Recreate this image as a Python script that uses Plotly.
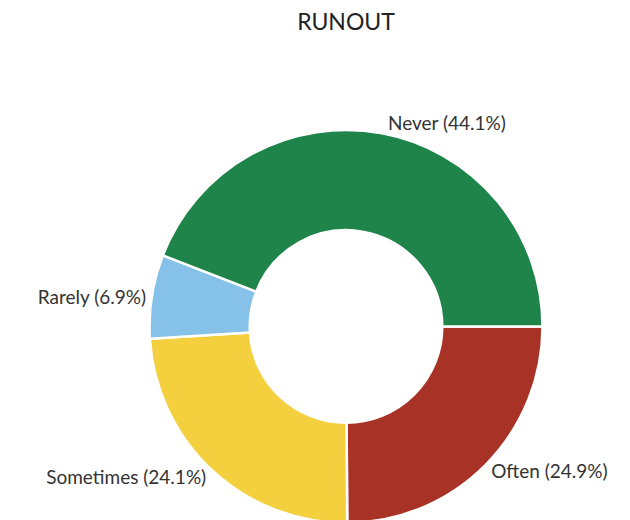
import plotly.graph_objects as go

categories = ["Often", "Sometimes", "Rarely", "Never"]
values = [24.9, 24.1, 6.9, 44.1]
colors = ["#a93226", "#f4d03f", "#85c1e9", "#1e8449"]

fig = go.Figure(go.Pie(
    labels=categories,
    values=values,
    hole=0.49,
    sort=False,
    direction="clockwise",
    rotation=90,
    marker=dict(colors=colors, line=dict(color="white", width=2.5)),
    textposition="outside",
    texttemplate="%{label} (%{percent:.1%})",
    textfont=dict(family="Lato", size=19, color="#333333"),
    showlegend=False,
))

fig.update_layout(
    width=630, height=520,
    margin=dict(l=64, r=0, t=122, b=0),
    title=dict(text="RUNOUT", x=0.5, xref="paper", xanchor="center",
               y=1, yref="container", yanchor="top", pad=dict(t=6),
               font=dict(family="Lato", size=23, color="#222222")),
    paper_bgcolor="white",
    plot_bgcolor="white",
)

fig.write_html("out.html")
